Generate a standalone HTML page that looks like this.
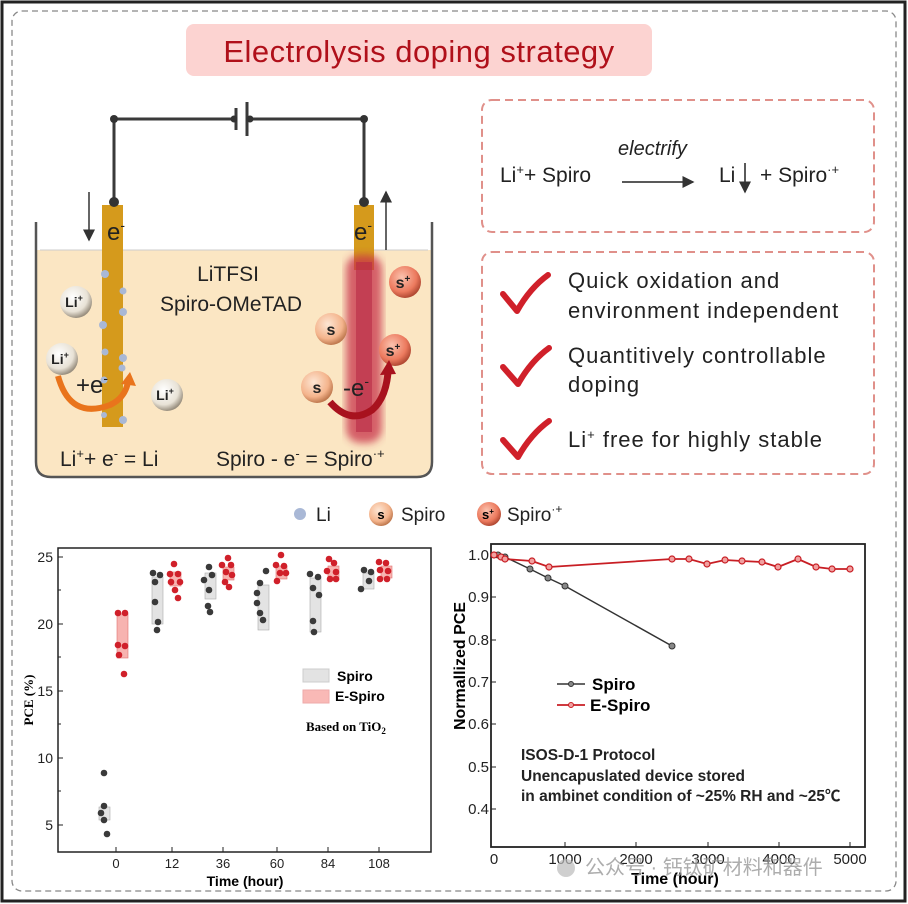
<!DOCTYPE html>
<html><head><meta charset="utf-8"><style>
html,body{margin:0;padding:0;background:#fff}
svg{display:block}
text{font-family:"Liberation Sans","Noto Sans CJK SC",sans-serif}
.serif{font-family:"Liberation Serif",serif}
</style></head><body>
<svg width="908" height="904" viewBox="0 0 908 904" xmlns="http://www.w3.org/2000/svg">
<defs>
<radialGradient id="gLi" cx="40%" cy="35%" r="65%"><stop offset="0" stop-color="#fff"/><stop offset="0.7" stop-color="#e8e2d6"/><stop offset="1" stop-color="#9a9080"/></radialGradient>
<radialGradient id="gS" cx="40%" cy="35%" r="65%"><stop offset="0" stop-color="#fde6d4"/><stop offset="0.7" stop-color="#f4b48c"/><stop offset="1" stop-color="#c07a50"/></radialGradient>
<radialGradient id="gSp" cx="40%" cy="35%" r="65%"><stop offset="0" stop-color="#fbc2ae"/><stop offset="0.7" stop-color="#ec7a5e"/><stop offset="1" stop-color="#b24a34"/></radialGradient>
<filter id="blur"><feGaussianBlur stdDeviation="4"/></filter>
<marker id="ah" markerWidth="8" markerHeight="8" refX="7" refY="4" orient="auto"><path d="M0,0 L8,4 L0,8 z" fill="#333"/></marker>
</defs>
<!-- frame -->
<rect x="2" y="2" width="903" height="899" fill="none" stroke="#222" stroke-width="3"/>
<rect x="12" y="11" width="884" height="880" rx="10" fill="none" stroke="#888" stroke-width="1.3" stroke-dasharray="6,4"/>
<!-- title -->
<rect x="186" y="24" width="466" height="52" rx="8" fill="#fcd3d1"/>
<text x="419" y="62" font-size="31" fill="#b0101a" text-anchor="middle" letter-spacing="0.5">Electrolysis doping strategy</text>

<!-- beaker -->
<path d="M36,250 L432,250 L432,462 Q432,477 417,477 L51,477 Q36,477 36,462 Z" fill="#fbe6c3"/>
<line x1="40" y1="250" x2="428" y2="250" stroke="#ccc" stroke-width="1"/>
<path d="M36,222 L36,462 Q36,477 51,477 L417,477 Q432,477 432,462 L432,222" fill="none" stroke="#555" stroke-width="2.5"/>
<!-- wire -->
<path d="M114,202 L114,119 L236,119 M247,119 L364,119 L364,202" fill="none" stroke="#3a3a3a" stroke-width="3"/>
<line x1="236" y1="108" x2="236" y2="130" stroke="#3a3a3a" stroke-width="3"/>
<line x1="247" y1="102" x2="247" y2="136" stroke="#3a3a3a" stroke-width="3"/>
<circle cx="114" cy="119" r="4" fill="#333"/><circle cx="364" cy="119" r="4" fill="#333"/>
<circle cx="234" cy="119" r="3.5" fill="#333"/><circle cx="250" cy="119" r="3.5" fill="#333"/>
<!-- electrodes -->
<rect x="102" y="205" width="21" height="222" fill="#d59a1c"/>
<rect x="354" y="205" width="20" height="65" fill="#d59a1c"/>
<rect x="346" y="255" width="36" height="188" rx="14" fill="#c8304a" opacity="0.75" filter="url(#blur)"/>
<rect x="356" y="262" width="16" height="170" fill="#b82a46" opacity="0.6"/>
<circle cx="114" cy="202" r="5" fill="#333"/><circle cx="364" cy="202" r="5" fill="#333"/>
<g fill="#a9b8d6">
<circle cx="105" cy="274" r="4"/><circle cx="123" cy="291" r="3.5"/><circle cx="123" cy="312" r="4"/><circle cx="103" cy="325" r="4"/><circle cx="105" cy="352" r="3.5"/><circle cx="123" cy="358" r="4"/><circle cx="122" cy="368" r="3.5"/><circle cx="104" cy="380" r="3.5"/><circle cx="123" cy="420" r="4"/><circle cx="104" cy="415" r="3"/></g>
<text x="107" y="240" font-size="24" fill="#222">e<tspan font-size="14" dy="-10">-</tspan></text>
<text x="354" y="240" font-size="24" fill="#222">e<tspan font-size="14" dy="-10">-</tspan></text>
<line x1="89" y1="192" x2="89" y2="240" stroke="#333" stroke-width="1.5" marker-end="url(#ah)"/>
<line x1="386" y1="250" x2="386" y2="192" stroke="#333" stroke-width="1.5" marker-end="url(#ah)"/>
<text x="228" y="281" font-size="21" fill="#222" text-anchor="middle">LiTFSI</text>
<text x="231" y="311" font-size="21" fill="#222" text-anchor="middle">Spiro-OMeTAD</text>
<!-- ions -->
<g font-weight="bold" font-size="14" fill="#222" text-anchor="middle">
<circle cx="76" cy="302" r="16" fill="url(#gLi)"/><text x="74" y="307">Li<tspan font-size="9" dy="-6">+</tspan></text>
<circle cx="62" cy="359" r="16" fill="url(#gLi)"/><text x="60" y="364">Li<tspan font-size="9" dy="-6">+</tspan></text>
<circle cx="167" cy="395" r="16" fill="url(#gLi)"/><text x="165" y="400">Li<tspan font-size="9" dy="-6">+</tspan></text>
<circle cx="331" cy="329" r="16" fill="url(#gS)"/><text x="331" y="335" font-size="16">s</text>
<circle cx="317" cy="387" r="16" fill="url(#gS)"/><text x="317" y="393" font-size="16">s</text>
<circle cx="405" cy="282" r="16" fill="url(#gSp)"/><text x="403" y="288" font-size="16">s<tspan font-size="10" dy="-6">+</tspan></text>
<circle cx="395" cy="350" r="16" fill="url(#gSp)"/><text x="393" y="356" font-size="16">s<tspan font-size="10" dy="-6">+</tspan></text>
</g>
<path d="M58,376 Q70,420 110,405 Q125,398 128,382" fill="none" stroke="#e9741c" stroke-width="6"/>
<path d="M121,384 L130,372 L136,386 z" fill="#e9741c"/>
<text x="76" y="393" font-size="24" fill="#222">+e<tspan font-size="14" dy="-10">-</tspan></text>
<path d="M330,402 Q350,425 372,410 Q386,398 388,372" fill="none" stroke="#a8121e" stroke-width="7"/>
<path d="M380,375 L389,360 L396,374 z" fill="#a8121e"/>
<text x="343" y="396" font-size="24" fill="#222">-e<tspan font-size="14" dy="-10">-</tspan></text>
<text x="60" y="466" font-size="21" fill="#222">Li<tspan font-size="13" dy="-8">+</tspan><tspan dy="8">+ e</tspan><tspan font-size="13" dy="-8">-</tspan><tspan dy="8"> = Li</tspan></text>
<text x="216" y="466" font-size="21" fill="#222">Spiro - e<tspan font-size="13" dy="-8">-</tspan><tspan dy="8"> = Spiro</tspan><tspan font-size="13" dy="-8">·+</tspan></text>

<!-- right boxes -->
<rect x="482" y="100" width="392" height="132" rx="10" fill="none" stroke="#e0908a" stroke-width="2" stroke-dasharray="8,5"/>
<text x="500" y="182" font-size="21" fill="#222">Li<tspan font-size="13" dy="-8">+</tspan><tspan dy="8">+ Spiro</tspan></text>
<text x="618" y="155" font-size="20" font-style="italic" fill="#222">electrify</text>
<line x1="622" y1="182" x2="693" y2="182" stroke="#222" stroke-width="1.5" marker-end="url(#ah)"/>
<text x="719" y="182" font-size="21" fill="#222">Li</text>
<line x1="745" y1="163" x2="745" y2="192" stroke="#222" stroke-width="1.5" marker-end="url(#ah)"/>
<text x="760" y="182" font-size="21" fill="#222">+ Spiro<tspan font-size="13" dy="-8">·+</tspan></text>
<rect x="482" y="252" width="392" height="222" rx="10" fill="none" stroke="#e0908a" stroke-width="2" stroke-dasharray="8,5"/>
<g fill="none" stroke="#d0202a" stroke-width="6" stroke-linecap="round" stroke-linejoin="round">
<path d="M503,294 L517,311 Q530,288 548,275"/>
<path d="M503,367 L518,384 Q531,361 549,348"/>
<path d="M503,440 L518,457 Q531,434 549,421"/>
</g>
<g font-size="22" fill="#222" letter-spacing="1">
<text x="568" y="288">Quick oxidation and</text>
<text x="568" y="318">environment independent</text>
<text x="568" y="363">Quantitively controllable</text>
<text x="568" y="392">doping</text>
<text x="568" y="447">Li<tspan font-size="13" dy="-8">+</tspan><tspan dy="8"> free for highly stable</tspan></text>
</g>
<!-- mid legend -->
<circle cx="300" cy="514" r="6" fill="#a9b8d6"/>
<text x="316" y="521" font-size="19" fill="#222">Li</text>
<circle cx="381" cy="514" r="12" fill="url(#gS)"/><text x="381" y="519" font-size="13" font-weight="bold" text-anchor="middle">s</text>
<text x="401" y="521" font-size="19" fill="#222">Spiro</text>
<circle cx="489" cy="514" r="12" fill="url(#gSp)"/><text x="488" y="519" font-size="13" font-weight="bold" text-anchor="middle">s<tspan font-size="8" dy="-5">+</tspan></text>
<text x="507" y="521" font-size="19" fill="#222">Spiro<tspan font-size="12" dy="-8">·+</tspan></text>

<!-- left chart -->
<rect x="58" y="548" width="373" height="304" fill="none" stroke="#222" stroke-width="1.5"/>
<g stroke="#222" stroke-width="1">
<line x1="58" y1="557" x2="63" y2="557"/><line x1="58" y1="624" x2="63" y2="624"/><line x1="58" y1="691" x2="63" y2="691"/><line x1="58" y1="758" x2="63" y2="758"/><line x1="58" y1="825" x2="63" y2="825"/>
<line x1="58" y1="590" x2="61" y2="590"/><line x1="58" y1="657" x2="61" y2="657"/><line x1="58" y1="724" x2="61" y2="724"/><line x1="58" y1="791" x2="61" y2="791"/>
<line x1="116" y1="852" x2="116" y2="847"/><line x1="172" y1="852" x2="172" y2="847"/><line x1="223" y1="852" x2="223" y2="847"/><line x1="277" y1="852" x2="277" y2="847"/><line x1="328" y1="852" x2="328" y2="847"/><line x1="379" y1="852" x2="379" y2="847"/>
</g>
<g font-size="14" fill="#222" text-anchor="end">
<text x="53" y="562">25</text><text x="53" y="629">20</text><text x="53" y="696">15</text><text x="53" y="763">10</text><text x="53" y="830">5</text></g>
<g class="serif" font-size="13" fill="#222" text-anchor="middle">
<text x="116" y="868">0</text><text x="172" y="868">12</text><text x="223" y="868">36</text><text x="277" y="868">60</text><text x="328" y="868">84</text><text x="379" y="868">108</text></g>
<text x="245" y="886" font-size="14" font-weight="bold" text-anchor="middle">Time (hour)</text>
<text transform="translate(33,700) rotate(-90)" class="serif" font-size="13" font-weight="bold" text-anchor="middle">PCE (%)</text>
<!-- boxes -->
<g fill="#e3e3e3" stroke="#aaa" stroke-width="0.6">
<rect x="99" y="807" width="11" height="13"/><rect x="152" y="577" width="11" height="47"/><rect x="205" y="573" width="11" height="26"/><rect x="258" y="585" width="11" height="45"/><rect x="310" y="578" width="11" height="54"/><rect x="363" y="573" width="11" height="16"/></g>
<g fill="#f7b3b0" stroke="#e07070" stroke-width="0.6">
<rect x="117" y="614" width="11" height="44"/><rect x="170" y="572" width="11" height="14"/><rect x="223" y="567" width="11" height="13"/><rect x="276" y="566" width="11" height="13"/><rect x="328" y="566" width="11" height="14"/><rect x="381" y="566" width="11" height="12"/></g>
<g fill="#3a3a3a">
<circle cx="104" cy="773" r="3.3"/><circle cx="104" cy="806" r="3.3"/><circle cx="101" cy="813" r="3.3"/><circle cx="104" cy="820" r="3.3"/><circle cx="107" cy="834" r="3.3"/>
<circle cx="153" cy="573" r="3.3"/><circle cx="155" cy="582" r="3.3"/><circle cx="160" cy="575" r="3.3"/><circle cx="155" cy="602" r="3.3"/><circle cx="158" cy="622" r="3.3"/><circle cx="157" cy="630" r="3.3"/>
<circle cx="209" cy="567" r="3.3"/><circle cx="204" cy="580" r="3.3"/><circle cx="212" cy="575" r="3.3"/><circle cx="209" cy="590" r="3.3"/><circle cx="208" cy="606" r="3.3"/><circle cx="210" cy="612" r="3.3"/>
<circle cx="266" cy="571" r="3.3"/><circle cx="260" cy="583" r="3.3"/><circle cx="257" cy="593" r="3.3"/><circle cx="257" cy="603" r="3.3"/><circle cx="260" cy="613" r="3.3"/><circle cx="263" cy="620" r="3.3"/>
<circle cx="310" cy="574" r="3.3"/><circle cx="318" cy="577" r="3.3"/><circle cx="313" cy="588" r="3.3"/><circle cx="319" cy="595" r="3.3"/><circle cx="313" cy="621" r="3.3"/><circle cx="314" cy="632" r="3.3"/>
<circle cx="364" cy="570" r="3.3"/><circle cx="371" cy="572" r="3.3"/><circle cx="369" cy="581" r="3.3"/><circle cx="361" cy="589" r="3.3"/></g>
<g fill="#d0202a">
<circle cx="118" cy="613" r="3.3"/><circle cx="125" cy="613" r="3.3"/><circle cx="118" cy="645" r="3.3"/><circle cx="125" cy="646" r="3.3"/><circle cx="119" cy="655" r="3.3"/><circle cx="124" cy="674" r="3.3"/>
<circle cx="174" cy="564" r="3.3"/><circle cx="170" cy="574" r="3.3"/><circle cx="178" cy="574" r="3.3"/><circle cx="171" cy="582" r="3.3"/><circle cx="180" cy="582" r="3.3"/><circle cx="175" cy="590" r="3.3"/><circle cx="178" cy="598" r="3.3"/>
<circle cx="228" cy="558" r="3.3"/><circle cx="222" cy="565" r="3.3"/><circle cx="231" cy="565" r="3.3"/><circle cx="226" cy="572" r="3.3"/><circle cx="232" cy="575" r="3.3"/><circle cx="225" cy="582" r="3.3"/><circle cx="229" cy="587" r="3.3"/>
<circle cx="281" cy="555" r="3.3"/><circle cx="276" cy="565" r="3.3"/><circle cx="284" cy="566" r="3.3"/><circle cx="280" cy="573" r="3.3"/><circle cx="286" cy="573" r="3.3"/><circle cx="277" cy="581" r="3.3"/>
<circle cx="329" cy="559" r="3.3"/><circle cx="334" cy="563" r="3.3"/><circle cx="327" cy="571" r="3.3"/><circle cx="336" cy="572" r="3.3"/><circle cx="330" cy="579" r="3.3"/><circle cx="336" cy="579" r="3.3"/>
<circle cx="379" cy="562" r="3.3"/><circle cx="386" cy="563" r="3.3"/><circle cx="380" cy="570" r="3.3"/><circle cx="388" cy="571" r="3.3"/><circle cx="380" cy="579" r="3.3"/><circle cx="387" cy="579" r="3.3"/></g>
<rect x="303" y="669" width="26" height="13" fill="#e3e3e3" stroke="#ccc"/>
<text x="337" y="681" font-size="14" font-weight="bold">Spiro</text>
<rect x="303" y="690" width="26" height="13" fill="#f9b9b6" stroke="#eaa"/>
<text x="335" y="701" font-size="14" font-weight="bold">E-Spiro</text>
<text x="306" y="731" class="serif" font-size="13" font-weight="bold">Based on TiO<tspan font-size="9" dy="3">2</tspan></text>

<!-- right chart -->
<rect x="491" y="544" width="374" height="303" fill="none" stroke="#222" stroke-width="1.8"/>
<g stroke="#222" stroke-width="1">
<line x1="491" y1="555" x2="496" y2="555"/><line x1="491" y1="597" x2="496" y2="597"/><line x1="491" y1="640" x2="496" y2="640"/><line x1="491" y1="682" x2="496" y2="682"/><line x1="491" y1="724" x2="496" y2="724"/><line x1="491" y1="767" x2="496" y2="767"/><line x1="491" y1="809" x2="496" y2="809"/>
<line x1="565" y1="847" x2="565" y2="842"/><line x1="636" y1="847" x2="636" y2="842"/><line x1="708" y1="847" x2="708" y2="842"/><line x1="779" y1="847" x2="779" y2="842"/><line x1="850" y1="847" x2="850" y2="842"/>
</g>
<g font-size="15" fill="#222" text-anchor="end">
<text x="489" y="560">1.0</text><text x="489" y="602">0.9</text><text x="489" y="645">0.8</text><text x="489" y="687">0.7</text><text x="489" y="729">0.6</text><text x="489" y="772">0.5</text><text x="489" y="814">0.4</text></g>
<g font-size="15" fill="#222" text-anchor="middle">
<text x="494" y="864">0</text><text x="565" y="864">1000</text><text x="636" y="864">2000</text><text x="708" y="864">3000</text><text x="779" y="864">4000</text><text x="850" y="864">5000</text></g>
<text x="675" y="884" font-size="16" font-weight="bold" text-anchor="middle">Time (hour)</text>
<text transform="translate(465,666) rotate(-90)" font-size="16" font-weight="bold" text-anchor="middle">Normallized PCE</text>
<polyline fill="none" stroke="#333" stroke-width="1.5" points="494,555 498,555 501,556 505,557 530,569 548,578 565,586 672,646"/>
<g fill="#888" stroke="#333" stroke-width="1"><circle cx="498" cy="555" r="3"/><circle cx="505" cy="557" r="3"/><circle cx="530" cy="569" r="3"/><circle cx="548" cy="578" r="3"/><circle cx="565" cy="586" r="3"/><circle cx="672" cy="646" r="3"/></g>
<polyline fill="none" stroke="#c81e24" stroke-width="1.8" points="494,555 498,556 501,557 505,559 532,561 549,567 672,559 689,559 707,564 725,560 742,561 762,562 778,567 798,559 816,567 832,569 850,569"/>
<g fill="#f1a0a0" stroke="#c81e24" stroke-width="1.2"><circle cx="494" cy="555" r="3"/><circle cx="501" cy="557" r="3"/><circle cx="505" cy="559" r="3"/><circle cx="532" cy="561" r="3"/><circle cx="549" cy="567" r="3"/><circle cx="672" cy="559" r="3"/><circle cx="689" cy="559" r="3"/><circle cx="707" cy="564" r="3"/><circle cx="725" cy="560" r="3"/><circle cx="742" cy="561" r="3"/><circle cx="762" cy="562" r="3"/><circle cx="778" cy="567" r="3"/><circle cx="798" cy="559" r="3"/><circle cx="816" cy="567" r="3"/><circle cx="832" cy="569" r="3"/><circle cx="850" cy="569" r="3"/></g>
<line x1="557" y1="684" x2="585" y2="684" stroke="#333" stroke-width="1.5"/><circle cx="571" cy="684" r="2.5" fill="#888" stroke="#333"/>
<text x="592" y="690" font-size="17" font-weight="bold">Spiro</text>
<line x1="557" y1="705" x2="585" y2="705" stroke="#c81e24" stroke-width="1.8"/><circle cx="571" cy="705" r="2.5" fill="#f1a0a0" stroke="#c81e24"/>
<text x="590" y="711" font-size="17" font-weight="bold">E-Spiro</text>
<g font-size="15.5" font-weight="bold" fill="#222">
<text x="521" y="760">ISOS-D-1 Protocol</text>
<text x="521" y="781">Unencapuslated device stored</text>
<text x="521" y="801">in ambinet condition of ~25% RH and ~25℃</text></g>
<text x="585" y="874" font-size="20" fill="#999" opacity="0.8">公众号 · 钙钛矿材料和器件</text>
<circle cx="566" cy="868" r="9" fill="#bbb" opacity="0.7"/>
</svg>
</body></html>
